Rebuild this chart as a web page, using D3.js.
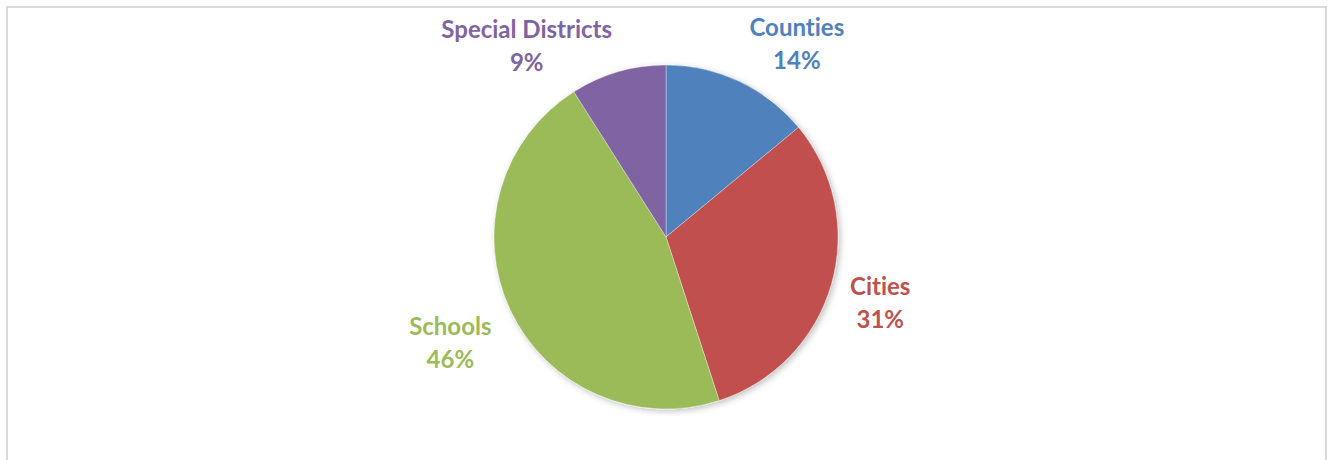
<!DOCTYPE html>
<html>
<head>
<meta charset="utf-8">
<script src="https://cdn.jsdelivr.net/npm/d3@7"></script>
<style>
  body { margin: 0; background: #fff; }
  svg { display: block; }
  text { font-variant-ligatures: none; font-feature-settings: "liga" 0, "clig" 0; }
</style>
</head>
<body>
<div id="chart"></div>
<script>
// data
var categories = ["Counties", "Cities", "Schools", "Special Districts"];
var shares = [14, 31, 46, 9];
var colors = ["#4F81BD", "#C0504D", "#9BBB59", "#8064A2"];

var width = 1328, height = 460;
var cx = 666, cy = 237, radius = 172;

// label placement tweaks (Excel pushes labels around)
var labelAngle = [34, 107, 244, 324];
var labelDist = [234, 224, 240, 237];

var svg = d3.select("#chart").append("svg")
  .attr("width", width)
  .attr("height", height);

// frame
svg.append("rect")
  .attr("x", 7).attr("y", 7)
  .attr("width", 1319).attr("height", 460)
  .attr("fill", "none")
  .attr("stroke", "#d9d9d9")
  .attr("stroke-width", 2);

var defs = svg.append("defs");
var f = defs.append("filter").attr("id", "shadow")
  .attr("x", "-20%").attr("y", "-20%").attr("width", "140%").attr("height", "140%");
f.append("feDropShadow")
  .attr("dx", 2).attr("dy", 2).attr("stdDeviation", 3)
  .attr("flood-color", "#000").attr("flood-opacity", 0.25);

var pie = d3.pie().sort(null).value(function(d) { return d; });
var arc = d3.arc().innerRadius(0).outerRadius(radius);

var g = svg.append("g")
  .attr("transform", "translate(" + cx + "," + cy + ")");

g.append("g").attr("filter", "url(#shadow)")
  .selectAll("path")
  .data(pie(shares))
  .enter().append("path")
  .attr("d", arc)
  .attr("fill", function(d, i) { return colors[i]; })
  .attr("stroke", "rgba(255,255,255,0.35)")
  .attr("stroke-width", 1);

// labels
var lab = g.selectAll("text.lbl")
  .data(categories)
  .enter().append("text")
  .attr("class", "lbl")
  .attr("text-anchor", "middle")
  .attr("font-family", "Lato, 'Open Sans', sans-serif")
  .attr("font-weight", "bold")
  .attr("font-size", 24)
  .attr("fill", function(d, i) { return colors[i]; })
  .attr("transform", function(d, i) {
    var a = labelAngle[i] * Math.PI / 180;
    var x = Math.sin(a) * labelDist[i];
    var y = -Math.cos(a) * labelDist[i];
    return "translate(" + x + "," + y + ")";
  });

lab.append("tspan")
  .attr("x", 0).attr("y", -7)
  .text(function(d) { return d; });
lab.append("tspan")
  .attr("x", 0).attr("y", 26)
  .text(function(d, i) { return shares[i] + "%"; });
</script>
</body>
</html>
